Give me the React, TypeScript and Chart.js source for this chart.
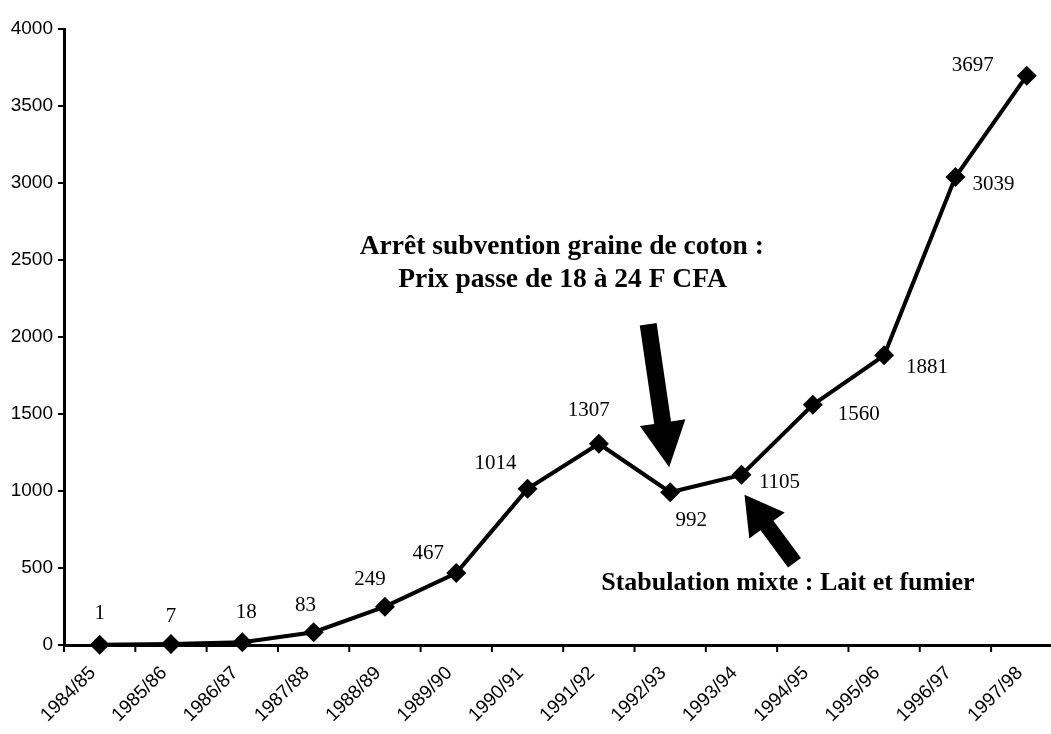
import React, { useEffect, useRef } from "react";
import { Chart, registerables } from "chart.js";

Chart.register(...registerables);

// ---- data ----
const seasons = [
  "1984/85", "1985/86", "1986/87", "1987/88", "1988/89", "1989/90", "1990/91",
  "1991/92", "1992/93", "1993/94", "1994/95", "1995/96", "1996/97", "1997/98",
];
const values = [1, 7, 18, 83, 249, 467, 1014, 1307, 992, 1105, 1560, 1881, 3039, 3697];
const yTickValues = [0, 500, 1000, 1500, 2000, 2500, 3000, 3500, 4000];
const noteTop = ["Arrêt subvention graine de coton :", "Prix passe de 18 à 24 F CFA"];
const noteBottom = "Stabulation mixte : Lait et fumier";

// ---- layout / style (not data) ----
const labelOffsets: [number, number][] = [
  [0, -31], [0, -27], [4, -30], [-8, -27], [-15, -27], [-28, -20], [-32, -25],
  [-10, -33], [21, 28], [38, 8], [46, 10], [43, 12], [38, 7], [-54, -10],
];
const W = 1051;
const H = 734;

function drawArrow(
  ctx: CanvasRenderingContext2D,
  tx: number, ty: number, sx: number, sy: number,
  shaftW: number, headW: number, headL: number
) {
  const dx = tx - sx, dy = ty - sy;
  const len = Math.hypot(dx, dy);
  const ux = dx / len, uy = dy / len;
  const nx = -uy, ny = ux;
  const bx = tx - ux * headL, by = ty - uy * headL;
  ctx.beginPath();
  ctx.moveTo(sx + nx * shaftW / 2, sy + ny * shaftW / 2);
  ctx.lineTo(bx + nx * shaftW / 2, by + ny * shaftW / 2);
  ctx.lineTo(bx + nx * headW / 2, by + ny * headW / 2);
  ctx.lineTo(tx, ty);
  ctx.lineTo(bx - nx * headW / 2, by - ny * headW / 2);
  ctx.lineTo(bx - nx * shaftW / 2, by - ny * shaftW / 2);
  ctx.lineTo(sx - nx * shaftW / 2, sy - ny * shaftW / 2);
  ctx.closePath();
  ctx.fill();
}

const overlayPlugin = {
  id: "overlay",
  afterDatasetsDraw(chart: any) {
    const ctx: CanvasRenderingContext2D = chart.ctx;
    const meta = chart.getDatasetMeta(0);
    ctx.save();
    ctx.fillStyle = "#000";
    ctx.font = "21px 'Liberation Serif', serif";
    ctx.textAlign = "center";
    ctx.textBaseline = "middle";
    meta.data.forEach((pt: any, i: number) => {
      const [ox, oy] = labelOffsets[i];
      ctx.fillText(String(values[i]), pt.x + ox, pt.y + oy);
    });
    ctx.restore();
  },
  afterDraw(chart: any) {
    const ctx: CanvasRenderingContext2D = chart.ctx;
    const xs = chart.scales.x;
    const ys = chart.scales.y;
    const area = chart.chartArea;
    ctx.save();
    // category boundary tick marks on x-axis
    ctx.strokeStyle = "#000";
    ctx.lineWidth = 2;
    for (let i = 0; i <= seasons.length; i++) {
      const px = xs.getPixelForValue(i - 0.5);
      if (px > area.right + 1) continue;
      ctx.beginPath();
      ctx.moveTo(px, area.bottom);
      ctx.lineTo(px, area.bottom + 7);
      ctx.stroke();
    }
    // annotation texts
    ctx.fillStyle = "#000";
    ctx.textAlign = "center";
    ctx.textBaseline = "middle";
    ctx.font = "bold 27.5px 'Liberation Serif', serif";
    ctx.fillText(noteTop[0], xs.getPixelForValue(6.48), ys.getPixelForValue(2584));
    ctx.fillText(noteTop[1], xs.getPixelForValue(6.49), ys.getPixelForValue(2370));
    ctx.font = "bold 26px 'Liberation Serif', serif";
    ctx.fillText(noteBottom, xs.getPixelForValue(9.65), ys.getPixelForValue(403));
    // arrows
    const meta = chart.getDatasetMeta(0);
    const p8 = meta.data[8];
    const p9 = meta.data[9];
    const t1x = p8.x - 1, t1y = p8.y - 25;
    drawArrow(ctx, t1x, t1y, t1x - 21, t1y - 143, 17, 46, 45);
    const t2x = p9.x + 3, t2y = p9.y + 20;
    drawArrow(ctx, t2x, t2y, t2x + 50, t2y + 68, 16, 44, 38);
    ctx.restore();
  },
};

export default function App() {
  const canvasRef = useRef<HTMLCanvasElement | null>(null);

  useEffect(() => {
    if (!canvasRef.current) return;
    const chart = new Chart(canvasRef.current, {
      type: "line",
      data: {
        datasets: [
          {
            data: values.map((v, i) => ({ x: i, y: v })),
            borderColor: "#000",
            backgroundColor: "#000",
            borderWidth: 4,
            pointStyle: "rectRot",
            pointRadius: 10,
            pointBackgroundColor: "#000",
            pointBorderColor: "#000",
            pointBorderWidth: 0,
            tension: 0,
            clip: false as any,
          },
        ],
      },
      options: {
        responsive: false,
        animation: false,
        layout: { autoPadding: false, padding: { top: 29, left: 0, right: 0, bottom: 0 } },
        plugins: {
          legend: { display: false },
          tooltip: { enabled: false },
          title: { display: false },
        },
        scales: {
          x: {
            type: "linear",
            min: -0.5,
            max: 13.34,
            afterBuildTicks: (scale: any) => {
              scale.ticks = seasons.map((_, i) => ({ value: i }));
            },
            afterFit: (scale: any) => {
              scale.height = 89;
              scale.paddingLeft = 0;
              scale.paddingRight = 0;
            },
            ticks: {
              autoSkip: false,
              minRotation: 45,
              maxRotation: 45,
              color: "#000",
              padding: 10,
              labelOffset: -7,
              font: { family: "'Liberation Sans', sans-serif", size: 19 },
              callback: (v: any) => seasons[v as number] ?? "",
            },
            grid: {
              drawOnChartArea: false,
              drawTicks: true,
              tickLength: 7,
              color: "rgba(0,0,0,0)",
            },
            border: { display: true, color: "#000", width: 3 },
          },
          y: {
            type: "linear",
            min: 0,
            max: 4000,
            afterBuildTicks: (scale: any) => {
              scale.ticks = yTickValues.map((v) => ({ value: v }));
            },
            afterFit: (scale: any) => {
              scale.width = 64;
            },
            ticks: {
              color: "#000",
              padding: 5,
              font: { family: "'Liberation Sans', sans-serif", size: 19 },
              callback: (v: any) => String(v),
            },
            grid: {
              drawOnChartArea: false,
              drawTicks: true,
              tickLength: 6,
              color: "#000",
              lineWidth: 2,
            },
            border: { display: true, color: "#000", width: 3 },
          },
        },
      },
      plugins: [overlayPlugin],
    });
    return () => chart.destroy();
  }, []);

  return (
    <div style={{ position: "fixed", left: 0, top: 0, width: W, height: H, background: "#fff" }}>
      <canvas ref={canvasRef} width={W} height={H} style={{ display: "block" }} />
    </div>
  );
}
